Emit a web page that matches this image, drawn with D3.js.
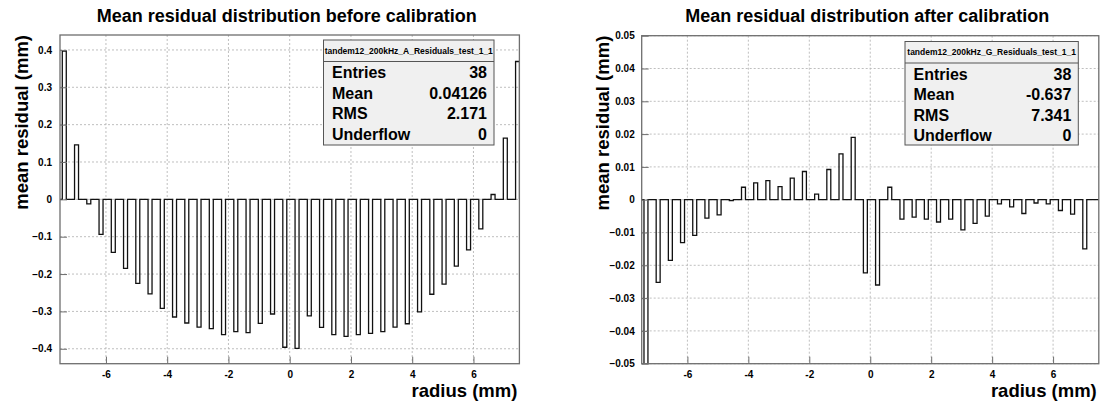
<!DOCTYPE html>
<html>
<head>
<meta charset="utf-8">
<script src="https://cdn.jsdelivr.net/npm/d3@7"></script>
<style>
  body { margin: 0; background: #fff; }
  svg { display: block; }
  text { font-family: "Liberation Sans", Arial, Helvetica, sans-serif; font-weight: bold; fill: #000; }
</style>
</head>
<body>
<svg id="chart" width="1100" height="402"></svg>
<script>
// Radius of each wire position (mm)
const radius = [-7.4, -7.0, -6.6, -6.2, -5.8, -5.4, -5.0, -4.6, -4.2, -3.8, -3.4, -3.0, -2.6, -2.2, -1.8, -1.4, -1.0, -0.6, -0.2,
                 0.2, 0.6, 1.0, 1.4, 1.8, 2.2, 2.6, 3.0, 3.4, 3.8, 4.2, 4.6, 5.0, 5.4, 5.8, 6.2, 6.6, 7.0, 7.4];

// Mean residual per position (mm) before calibration
const residualBefore = [0.397, 0.146, -0.012, -0.094, -0.142, -0.185, -0.225, -0.253, -0.292, -0.315, -0.331, -0.342, -0.346, -0.362, -0.354, -0.357, -0.332, -0.307, -0.396,
                        -0.399, -0.312, -0.343, -0.362, -0.367, -0.362, -0.359, -0.354, -0.342, -0.333, -0.301, -0.254, -0.227, -0.179, -0.135, -0.079, 0.013, 0.164, 0.369];

// Mean residual per position (mm) after calibration
const residualAfter = [-0.060, -0.0252, -0.0185, -0.0131, -0.0109, -0.0056, -0.0046, -0.0003, 0.0038, 0.0051, 0.0058, 0.0040, 0.0066, 0.0086, 0.0017, 0.0092, 0.0140, 0.0190, -0.0223,
                       -0.0260, 0.0038, -0.0059, -0.0053, -0.0059, -0.0068, -0.0059, -0.0092, -0.0072, -0.0050, -0.0013, -0.0022, -0.0042, -0.0010, -0.0013, -0.0033, -0.0044, -0.0150, 0.0];

// Axis tick labels
const xTicks = [-6, -4, -2, 0, 2, 4, 6];
const yTicksBefore = [-0.4, -0.3, -0.2, -0.1, 0, 0.1, 0.2, 0.3, 0.4];
const yTicksAfter = [-0.05, -0.04, -0.03, -0.02, -0.01, 0, 0.01, 0.02, 0.03, 0.04, 0.05];

// Statistics box contents
const statsLabels = ["Entries", "Mean", "RMS", "Underflow"];
const statsBefore = ["38", "0.04126", "2.171", "0"];
const statsAfter = ["38", "-0.637", "7.341", "0"];

const panels = [
  {
    id: "before",
    title: "Mean residual distribution before calibration",
    values: residualBefore,
    yDomain: [-0.44, 0.44],
    yTicks: yTicksBefore,
    yMinor: 0.02,
    yFmt: d => d === 0 ? "0" : d3.format(".1f")(d),
    yPad: 8,
    frame: { x0: 60, x1: 519.4, y0: 35, y1: 363.7 },
    yTitleX: 28,
    histName: "tandem12_200kHz_A_Residuals_test_1_1",
    stats: statsBefore,
    box: { x0: 323.5, x1: 494, y0: 40, y1: 145 }
  },
  {
    id: "after",
    title: "Mean residual distribution after calibration",
    values: residualAfter,
    yDomain: [-0.05, 0.05],
    yTicks: yTicksAfter,
    yMinor: 0.002,
    yFmt: d => d === 0 ? "0" : d3.format(".2f")(d),
    yPad: 7,
    frame: { x0: 641.7, x1: 1098.8, y0: 35.7, y1: 363.7 },
    yTitleX: 609,
    histName: "tandem12_200kHz_G_Residuals_test_1_1",
    stats: statsAfter,
    box: { x0: 905, x1: 1078.3, y0: 41.5, y1: 145 }
  }
];

const svg = d3.select("#chart");
const binLo = -0.025, binHi = 0.105;   // bin edges relative to each radius

panels.forEach(p => {
  const f = p.frame;
  const x = d3.scaleLinear().domain([-7.5, 7.5]).range([f.x0, f.x1]);
  const y = d3.scaleLinear().domain(p.yDomain).range([f.y1, f.y0]);
  const g = svg.append("g");

  // clip region for the histogram
  const clipId = "clip-" + p.id;
  svg.append("clipPath").attr("id", clipId)
    .append("rect").attr("x", f.x0).attr("y", f.y0)
    .attr("width", f.x1 - f.x0).attr("height", f.y1 - f.y0);

  // dotted grid
  const grid = g.append("g").attr("stroke", "#b8b8b8").attr("stroke-width", 0.9)
    .attr("stroke-dasharray", "2,2");
  grid.selectAll("line.gx").data(xTicks).join("line")
    .attr("x1", d => x(d)).attr("x2", d => x(d))
    .attr("y1", f.y0).attr("y2", f.y1);
  grid.selectAll("line.gy").data(p.yTicks).join("line")
    .attr("x1", f.x0).attr("x2", f.x1)
    .attr("y1", d => y(d)).attr("y2", d => y(d));

  // histogram drawn as a step outline
  const pts = [[x.domain()[0], 0]];
  radius.forEach((r, i) => {
    const v = p.values[i];
    pts.push([r + binLo, 0], [r + binLo, v], [r + binHi, v], [r + binHi, 0]);
  });
  pts.push([x.domain()[1], 0]);
  const line = d3.line().x(d => x(d[0])).y(d => y(d[1]));
  g.append("path").attr("clip-path", `url(#${clipId})`)
    .attr("d", line(pts))
    .attr("fill", "none").attr("stroke", "#111").attr("stroke-width", 1.3);

  // frame
  g.append("rect").attr("x", f.x0).attr("y", f.y0)
    .attr("width", f.x1 - f.x0).attr("height", f.y1 - f.y0)
    .attr("fill", "none").attr("stroke", "#6e6e6e").attr("stroke-width", 1.3);

  // x axis ticks (inward)
  const xMinor = d3.range(-7.5, 7.5001, 0.5);
  const xAxisG = g.append("g").attr("transform", `translate(0,${f.y1})`);
  xAxisG.call(d3.axisBottom(x).tickValues(xMinor).tickSize(-3).tickFormat(""));
  xAxisG.call(d3.axisBottom(x).tickValues(xTicks).tickSize(-7).tickPadding(7)
    .tickFormat(d => d === 0 ? "0" : String(d)));
  xAxisG.select(".domain").remove();
  xAxisG.selectAll("line").attr("stroke", "#6e6e6e").attr("stroke-width", 1);
  xAxisG.selectAll("text").attr("font-size", 10).attr("font-family", null);

  // y axis ticks (inward)
  const yMinor = d3.range(p.yDomain[0], p.yDomain[1] + 1e-9, p.yMinor);
  const yAxisG = g.append("g").attr("transform", `translate(${f.x0},0)`);
  yAxisG.call(d3.axisLeft(y).tickValues(yMinor).tickSize(-3).tickFormat(""));
  yAxisG.call(d3.axisLeft(y).tickValues(p.yTicks).tickSize(-7).tickPadding(p.yPad).tickFormat(p.yFmt));
  yAxisG.select(".domain").remove();
  yAxisG.selectAll("line").attr("stroke", "#6e6e6e").attr("stroke-width", 1);
  yAxisG.selectAll("text").attr("font-size", 10).attr("font-family", null);

  // titles
  g.append("text").attr("x", (f.x0 + f.x1) / 2 - 3).attr("y", 22)
    .attr("text-anchor", "middle").attr("font-size", 18).text(p.title);
  g.append("text").attr("x", f.x1 - 2).attr("y", 397)
    .attr("text-anchor", "end").attr("font-size", 18.5).text("radius (mm)");
  g.append("text").attr("transform", `translate(${p.yTitleX},${f.y0}) rotate(-90)`)
    .attr("text-anchor", "end").attr("font-size", 18.5).text("mean residual (mm)");

  // statistics box
  const b = p.box;
  const sb = g.append("g");
  sb.append("rect").attr("x", b.x0).attr("y", b.y0)
    .attr("width", b.x1 - b.x0).attr("height", b.y1 - b.y0)
    .attr("fill", "#f0f0f0").attr("stroke", "#555").attr("stroke-width", 1);
  sb.append("line").attr("x1", b.x0).attr("x2", b.x1)
    .attr("y1", b.y0 + 21.5).attr("y2", b.y0 + 21.5)
    .attr("stroke", "#555").attr("stroke-width", 1);
  sb.append("text").attr("x", (b.x0 + b.x1) / 2).attr("y", b.y0 + 13.5)
    .attr("text-anchor", "middle").attr("font-size", 8.5).text(p.histName);
  statsLabels.forEach((lab, i) => {
    const by = b.y0 + 38 + i * 20.6;
    sb.append("text").attr("x", b.x0 + 8.5).attr("y", by).attr("font-size", 16).text(lab);
    sb.append("text").attr("x", b.x1 - 7).attr("y", by).attr("text-anchor", "end")
      .attr("font-size", 16).text(p.stats[i]);
  });
});
</script>
</body>
</html>
